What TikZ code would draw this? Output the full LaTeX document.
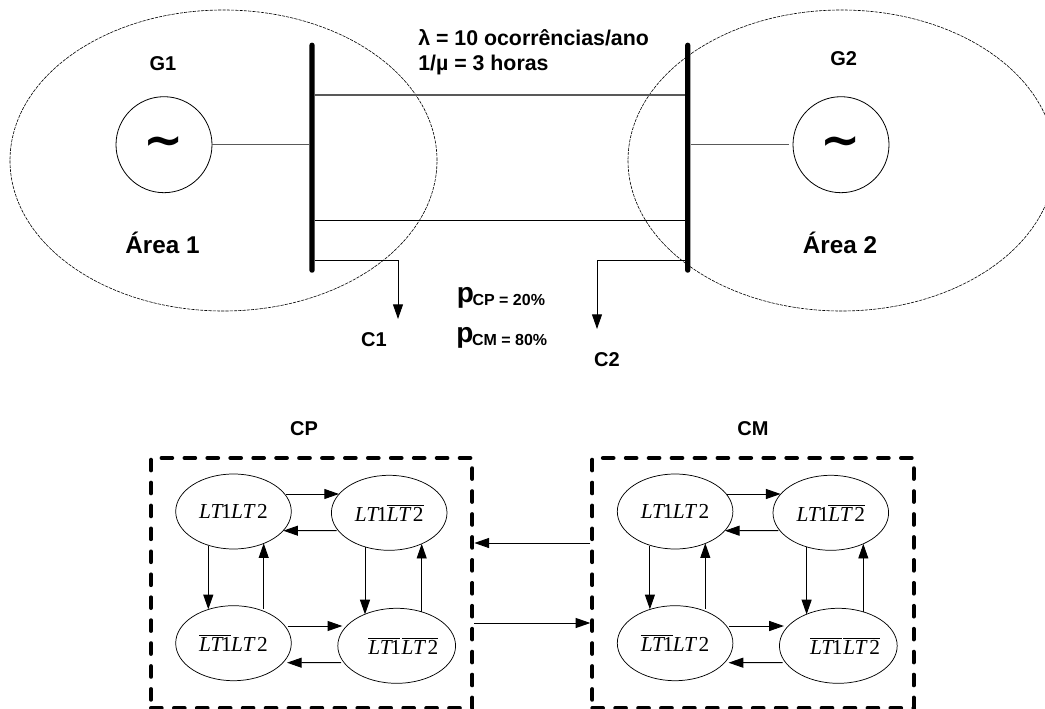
\documentclass[tikz,border=0pt]{standalone}
\usepackage{fontspec}
\setmainfont{Liberation Sans}
\newfontfamily\timesf{Liberation Serif}
\newfontfamily\tildef{DejaVu Sans}
\usetikzlibrary{shapes.geometric,arrows.meta}
\newcommand{\ovl}[1]{\ensuremath{\overline{\hbox{#1}}}}
\newcommand{\ltone}{{\itshape LT}\kern-1pt 1\kern-0.5pt}
\newcommand{\lttwo}{{\itshape LT}\kern2pt 2}
\newcommand{\bigtilde}{\raisebox{-9pt}[0pt][0pt]{\char`\~}}
\tikzset{
  arrowline/.style={line width=0.7pt,-{Triangle[length=11pt,width=7.5pt]},black},
  wire/.style={line width=0.7pt,black},
  greywire/.style={line width=0.8pt,black!65},
  areaellipse/.style={draw,ellipse,dash pattern=on 2.4pt off 0.8pt,line width=0.45pt,inner sep=0,minimum width=320.25pt,minimum height=225.75pt},
  gen/.style={draw,circle,line width=0.6pt,inner sep=0,minimum size=72pt,font=\tildef\bfseries\fontsize{36}{36}\selectfont},
  busbar/.style={fill=black,rounded corners=1.8pt,inner sep=0,minimum width=3.9pt,minimum height=172.5pt},
  state/.style={draw,ellipse,line width=0.55pt,inner sep=0,minimum width=86.7pt,minimum height=56.25pt,font=\timesf\fontsize{16}{18}\selectfont},
  statebox/.style={draw,line width=3pt,dash pattern=on 8pt off 9.2pt,line cap=round,inner sep=0,minimum width=241pt,minimum height=187.5pt},
  lbl/.style={anchor=base,inner sep=0,font=\bfseries\fontsize{15}{18}\selectfont},
  arealbl/.style={anchor=base,inner sep=0,font=\bfseries\fontsize{18.2}{22}\selectfont},
  txt/.style={anchor=base west,inner sep=0,font=\bfseries\fontsize{16}{19}\selectfont},
}
\newcommand{\stategroup}[2]{%
\begin{scope}[shift={(#2,0)}]
  \node[state] (#1tl) at (233.5,511.5) {\ltone\lttwo};
  \node[state] (#1tr) at (389.2,512.8) {\ltone\ovl{\lttwo}};
  \node[state] (#1bl) at (233.5,643.2) {\ovl{\ltone}\lttwo};
  \node[state] (#1br) at (396.7,645.8) {\hspace*{10pt}\ovl{\ltone}\kern1pt\ovl{\lttwo}};
\end{scope}
\draw[arrowline] ([shift={(52.2,-17.5)}]#1tl.center) -- ([shift={(-50.2,-18.8)}]#1tr.center);
\draw[arrowline] ([shift={(-52.5,17.9)}]#1tr.center) -- ([shift={(49.8,19.2)}]#1tl.center);
\draw[arrowline] ([shift={(-25.2,34.2)}]#1tl.center) -- ([shift={(-25.2,-33.9)}]#1bl.center);
\draw[arrowline] ([shift={(30.2,-34.5)}]#1bl.center) -- ([shift={(30.2,31.8)}]#1tl.center);
\draw[arrowline] ([shift={(-24.2,34)}]#1tr.center) -- ([shift={(-31.7,-31.4)}]#1br.center);
\draw[arrowline] ([shift={(25,-33.9)}]#1br.center) -- ([shift={(32.5,31)}]#1tr.center);
\draw[arrowline] ([shift={(54.2,-17.2)}]#1bl.center) -- ([shift={(-54.4,-19.8)}]#1br.center);
\draw[arrowline] ([shift={(-55.7,16.9)}]#1br.center) -- ([shift={(53.5,19.5)}]#1bl.center);
}
\begin{document}
\begin{tikzpicture}[x=0.75pt,y=-0.75pt]
\clip (0,0) rectangle (1045,709);
% areas
\node[areaellipse] (a1) at (223.5,160.5) {};
\node[areaellipse] (a2) at (841.5,160.5) {};
% generators and buses
\node[gen] (g1) at (164,144.7) {\bigtilde};
\node[gen] (g2) at (841,144.7) {\bigtilde};
\node[busbar] (b1) at (312,157.7) {};
\node[busbar] (b2) at (687.7,157.7) {};
\draw[greywire] ([yshift=47pt]b1.east) -- ([yshift=47pt]b2.west);
\draw[wire] ([yshift=-47.1pt]b1.east) -- ([yshift=-47.1pt]b2.west);
\draw[greywire] (g1.east) -- (b1.west |- g1.east);
\draw[greywire] (b2.east |- g2.west) -- ([xshift=-3pt]g2.west);
% loads
\coordinate (c1tip) at (398,319);
\coordinate (c2tip) at (597,329);
\draw[arrowline] ([yshift=-77.1pt]b1.east) -| (c1tip);
\draw[arrowline] ([yshift=-77.1pt]b2.west) -| (c2tip);
% top labels
\node[lbl] (tg1) at (163,70.7) {G1};
\node[lbl] (tg2) at (843.7,65.7) {G2};
\node[arealbl] (ta1) at (162.5,253) {Área 1};
\node[arealbl] (ta2) at (840,253) {Área 2};
\node[txt] (tl) at (418,45.7) {λ = 10 ocorrências/ano};
\node[txt] (tm) at (418,71) {1/µ = 3 horas};
\node[anchor=base west,inner sep=0] (pcp) at (456.5,305.5) {\bfseries\raisebox{2.2pt}{\fontsize{21}{24}\selectfont p}\kern-1pt{\fontsize{12}{14}\selectfont CP = 20\%}};
\node[anchor=base west,inner sep=0] (pcm) at (456,345) {\bfseries\raisebox{2pt}{\fontsize{21}{24}\selectfont p}\kern-1pt{\fontsize{12}{14}\selectfont CM = 80\%}};
\node[lbl] (tc1) at (374,346.7) {C1};
\node[lbl] (tc2) at (607,366.7) {C2};
% lower part
\node[lbl] (tcp) at (304,435) {CP};
\node[lbl] (tcm) at (753,435) {CM};
\node[statebox] (cp) at (311.7,583) {};
\node[statebox] (cm) at (753,583) {};
\stategroup{p}{0}
\stategroup{m}{441.6}
\draw[arrowline] ([yshift=30pt]cm.west) -- ([yshift=30pt]cp.east);
\draw[arrowline] ([yshift=-30pt]cp.east) -- ([yshift=-30pt]cm.west);
\end{tikzpicture}
\end{document}
